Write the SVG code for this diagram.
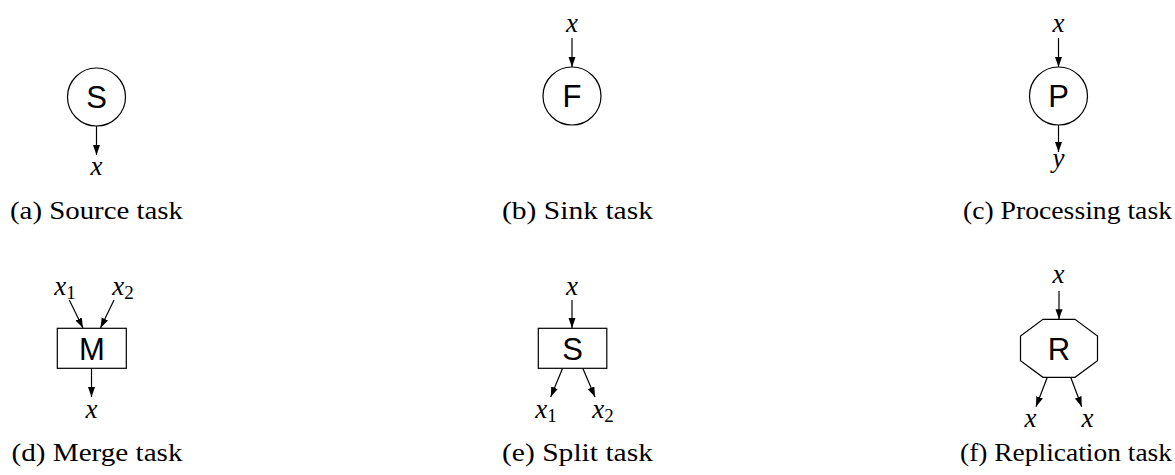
<svg xmlns="http://www.w3.org/2000/svg" width="1175" height="475" viewBox="0 0 1175 475">
<style>
.node{fill:#fff;stroke:#000;stroke-width:1.2}
.lbl{font-family:"Liberation Sans",Arial,sans-serif;font-size:31px;text-anchor:middle;fill:#000}
.m{font-family:"Liberation Serif","Times New Roman",serif;font-style:italic;font-size:27px;text-anchor:middle;fill:#000}
.sub{font-style:normal;font-size:19px}
.cap{font-family:"Liberation Serif","Times New Roman",serif;font-size:26px;fill:#000}
.e{stroke:#000;stroke-width:1.2;fill:none;marker-end:url(#ah)}
</style>
<defs>
<marker id="ah" markerUnits="userSpaceOnUse" markerWidth="11" markerHeight="8" refX="10" refY="3.5" orient="auto">
<path d="M0,0 L10,3.5 L0,7 z" fill="#000"/>
</marker>
</defs>
<g id="connectors">
<line class="e" x1="96.5" y1="126" x2="96.5" y2="155"/>
<line class="e" x1="572" y1="38" x2="572" y2="67"/>
<line class="e" x1="1058.5" y1="38" x2="1058.5" y2="67"/>
<line class="e" x1="1058.5" y1="125" x2="1058.5" y2="152"/>
<line class="e" x1="69.3" y1="300" x2="83" y2="328"/>
<line class="e" x1="114" y1="300" x2="100.5" y2="328"/>
<line class="e" x1="91.5" y1="368" x2="91.5" y2="397"/>
<line class="e" x1="572" y1="300" x2="572" y2="328"/>
<line class="e" x1="562.7" y1="368" x2="550.7" y2="397"/>
<line class="e" x1="582.7" y1="368" x2="595" y2="397"/>
<line class="e" x1="1059" y1="291" x2="1059" y2="319.3"/>
<line class="e" x1="1047.3" y1="377.3" x2="1036" y2="406.7"/>
<line class="e" x1="1070.7" y1="377.3" x2="1081.7" y2="406.7"/>
</g>
<g id="source">
<circle class="node" cx="96.5" cy="97" r="29"/>
<text class="lbl" x="96.5" y="108">S</text>
<text class="m" x="96.5" y="175">x</text>
<text class="cap" x="10" y="219" textLength="173" lengthAdjust="spacingAndGlyphs">(a) Source task</text>
</g>
<g id="sink">
<circle class="node" cx="572" cy="96" r="29"/>
<text class="lbl" x="572" y="107">F</text>
<text class="m" x="572" y="32">x</text>
<text class="cap" x="502" y="219" textLength="151" lengthAdjust="spacingAndGlyphs">(b) Sink task</text>
</g>
<g id="processing">
<circle class="node" cx="1058.5" cy="96" r="29"/>
<text class="lbl" x="1058.5" y="107">P</text>
<text class="m" x="1058.5" y="32">x</text>
<text class="m" x="1058.5" y="167">y</text>
<text class="cap" x="963" y="219" textLength="209" lengthAdjust="spacingAndGlyphs">(c) Processing task</text>
</g>
<g id="merge">
<rect class="node" x="57.3" y="328.3" width="69" height="40"/>
<text class="lbl" x="91.8" y="359.5">M</text>
<text class="m" x="65" y="295">x<tspan class="sub" dy="4">1</tspan></text>
<text class="m" x="123" y="295">x<tspan class="sub" dy="4">2</tspan></text>
<text class="m" x="91.5" y="418">x</text>
<text class="cap" x="11.5" y="461" textLength="171" lengthAdjust="spacingAndGlyphs">(d) Merge task</text>
</g>
<g id="split">
<rect class="node" x="538.3" y="328.3" width="68.5" height="40"/>
<text class="lbl" x="572.5" y="359.5">S</text>
<text class="m" x="572" y="295">x</text>
<text class="m" x="546" y="418">x<tspan class="sub" dy="4">1</tspan></text>
<text class="m" x="603" y="418">x<tspan class="sub" dy="4">2</tspan></text>
<text class="cap" x="502" y="461" textLength="151" lengthAdjust="spacingAndGlyphs">(e) Split task</text>
</g>
<g id="replication">
<polygon class="node" points="1043,319.3 1075,319.3 1097.5,336 1097.5,360.7 1075,377.3 1043,377.3 1020.5,360.7 1020.5,336"/>
<text class="lbl" x="1059" y="359.5">R</text>
<text class="m" x="1058.5" y="283">x</text>
<text class="m" x="1030.5" y="427">x</text>
<text class="m" x="1087.5" y="427">x</text>
<text class="cap" x="960" y="461" textLength="212" lengthAdjust="spacingAndGlyphs">(f) Replication task</text>
</g>
</svg>
